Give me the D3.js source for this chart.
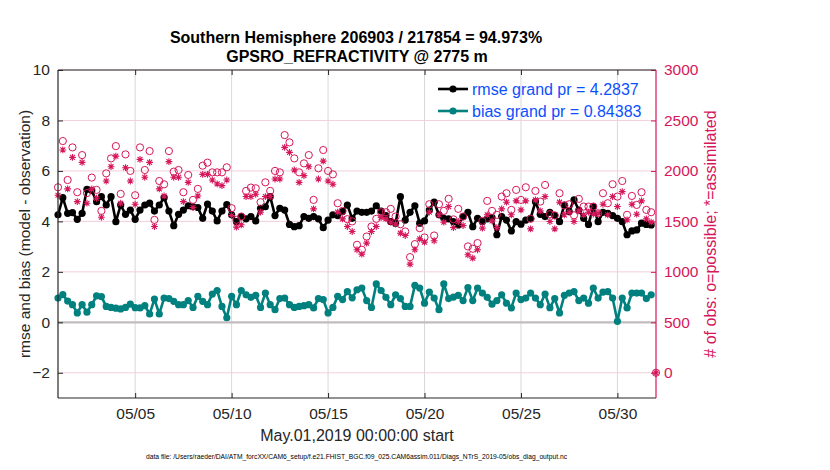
<!DOCTYPE html>
<html>
<head>
<meta charset="utf-8">
<script src="https://cdn.jsdelivr.net/npm/d3@7"></script>
<style>
  html, body { margin: 0; padding: 0; background: #fff; }
  svg { display: block; font-family: "Liberation Sans", Arial, Helvetica, sans-serif; }
</style>
</head>
<body>
<svg id="chart" width="830" height="470"></svg>
<script>
// ---------------- data ----------------
const startTime = "2019-05-01T00:00:00Z";
const binHours = 6;
const endTime = "2019-06-01T00:00:00Z";

const rmse = [4.26,4.94,4.32,4.35,4.08,4.32,5.27,5.22,4.78,4.98,4.65,4.98,3.99,4.65,4.28,4.45,4.08,4.45,4.65,4.72,
  4.41,4.65,4.94,4.41,3.83,4.28,4.45,4.62,4.58,4.55,4.12,4.69,4.41,4.02,4.41,4.67,4.26,3.99,4.19,4.10,
  4.19,4.02,4.52,4.58,4.98,4.23,4.52,4.45,3.88,3.79,3.83,4.19,4.12,4.19,4.10,3.75,4.05,4.26,4.23,4.39,
  4.65,4.12,4.41,4.36,4.36,4.41,4.62,4.41,4.23,3.99,3.93,4.98,4.05,4.36,4.62,3.93,4.02,4.45,4.76,4.26,
  4.12,4.10,3.99,3.86,4.19,4.36,3.79,4.12,3.99,4.10,4.15,3.47,4.19,4.05,3.62,3.99,3.89,4.05,4.12,4.78,
  4.28,4.19,4.36,4.23,3.99,4.65,4.39,4.85,4.45,4.12,3.88,4.58,3.99,4.36,4.32,4.23,4.12,3.99,3.47,3.62,
  3.66,3.93,3.88,3.86];

const bias = [0.96,1.10,0.84,0.70,0.37,0.70,0.40,0.70,1.05,1.02,0.63,0.59,0.56,0.53,0.59,0.72,0.58,0.57,0.66,0.33,
  0.92,0.33,0.96,0.94,0.83,0.70,0.70,0.86,0.59,1.03,0.83,0.70,1.12,1.26,0.63,0.18,1.03,0.70,1.26,1.09,
  0.99,1.07,0.59,1.16,0.70,0.50,0.94,0.96,0.70,0.59,0.63,0.66,0.70,0.57,0.94,0.90,0.37,0.59,1.03,0.90,
  1.22,0.97,1.29,1.36,0.86,0.59,1.52,1.26,0.99,0.70,1.09,0.94,0.63,0.63,1.46,1.36,0.76,1.20,0.96,0.50,
  1.52,0.94,1.00,1.07,0.86,1.38,0.86,1.36,1.16,0.99,0.72,0.86,1.09,0.76,0.57,1.16,0.90,0.96,1.16,0.96,
  0.70,1.12,0.58,0.94,0.37,1.07,1.16,1.22,0.86,0.96,0.76,1.36,0.96,1.20,1.22,0.96,0.04,0.96,0.57,1.16,
  1.16,1.16,0.94,1.09];

const nPossible = [1838,2296,1910,2233,1789,2157,1780,1934,1812,1604,1976,2124,2246,1772,2164,2000,1759,2233,2009,2197,
  1515,1900,1867,2197,1993,2009,1789,1960,1713,1822,2052,2082,1986,1986,1986,2036,1631,1515,1548,1802,
  1835,1828,1690,1887,1802,2000,1986,2355,2283,2124,1986,2075,2157,1713,2026,2207,2000,1966,1680,1604,
  1522,1500,1268,1219,1350,1449,1525,1591,1591,1624,1548,1472,1400,1146,1275,1433,1341,1670,1360,1670,
  1604,1723,1520,1624,1548,1252,1229,1285,1505,1703,1604,1565,1746,1779,1614,1812,1713,1838,1525,1802,
  1696,1861,1571,1560,1779,1657,1670,1560,1723,1647,1647,1647,1580,1779,1680,1868,1746,1900,1565,1752,
  1663,1789,1614,1591,0];

const nAssimilated = [1759,2208,1822,2134,1696,2085,1680,1822,1729,1541,1900,2042,2147,1680,2032,1900,1670,2114,1937,2085,
  1449,1822,1752,2092,1937,1937,1696,1887,1637,1752,1966,1966,1910,1871,1854,1910,1558,1443,1466,1746,
  1746,1769,1591,1746,1746,1920,1920,2233,2184,2009,1887,1953,2042,1624,1920,2097,1900,1868,1591,1525,
  1449,1400,1219,1176,1285,1400,1449,1538,1525,1492,1472,1383,1360,1077,1219,1327,1294,1591,1308,1565,
  1492,1647,1439,1499,1459,1169,1136,1219,1433,1565,1505,1439,1624,1690,1565,1703,1614,1703,1426,1713,
  1604,1746,1499,1426,1690,1565,1591,1499,1604,1565,1591,1571,1581,1670,1565,1746,1647,1795,1515,1670,
  1571,1703,1525,1492,0];

const leftTicks = [-2, 0, 2, 4, 6, 8, 10];
const rightTicks = [0, 500, 1000, 1500, 2000, 2500, 3000];
const xTickDates = ["2019-05-05","2019-05-10","2019-05-15","2019-05-20","2019-05-25","2019-05-30"];

const titleLine1 = "Southern Hemisphere 206903 / 217854 = 94.973%";
const titleLine2 = "GPSRO_REFRACTIVITY @ 2775 m";
const legendRmse = "rmse grand pr = 4.2837";
const legendBias = "bias grand pr = 0.84383";
const leftLabel = "rmse and bias (model - observation)";
const rightLabel = "# of obs: o=possible; *=assimilated";
const xLabel = "May.01,2019 00:00:00 start";
const footer = "data file: /Users/raeder/DAI/ATM_forcXX/CAM6_setup/f.e21.FHIST_BGC.f09_025.CAM6assim.011/Diags_NTrS_2019-05/obs_diag_output.nc";

// ---------------- layout ----------------
const M = { left: 58, right: 656, top: 70, bottom: 398 };
const PINK = "#d6175b";
const TEAL = "#00807e";
const AXC = "#262626";
const BLUE = "#0b50ff";

const t0 = new Date(startTime);
const times = d3.range(nPossible.length).map(i => d3.utcHour.offset(t0, i * binHours));

const x = d3.scaleUtc().domain([new Date(startTime), new Date(endTime)]).range([M.left, M.right]);
const yL = d3.scaleLinear().domain([-3, 10]).range([M.bottom, M.top]);
const yR = d3.scaleLinear().domain([-250, 3000]).range([M.bottom, M.top]);

const svg = d3.select("#chart");

// grid: vertical
const xt = xTickDates.map(s => new Date(s + "T00:00:00Z"));
svg.append("g").selectAll("line").data(xt).join("line")
  .attr("x1", d => x(d)).attr("x2", d => x(d))
  .attr("y1", M.top).attr("y2", M.bottom)
  .attr("stroke", "#d8d8d8").attr("stroke-width", 1);

// grid: horizontal (right axis)
svg.append("g").selectAll("line").data(rightTicks).join("line")
  .attr("x1", M.left).attr("x2", M.right)
  .attr("y1", d => yR(d)).attr("y2", d => yR(d))
  .attr("stroke", "#f3cfdc").attr("stroke-width", 1);

// zero line
svg.append("line")
  .attr("x1", M.left).attr("x2", M.right)
  .attr("y1", yL(0)).attr("y2", yL(0))
  .attr("stroke", "#c3bcc0").attr("stroke-width", 2.2);

// rmse line + markers
const lineL = d3.line().x((d, i) => x(times[i])).y(d => yL(d));
svg.append("path").datum(rmse).attr("d", lineL)
  .attr("fill", "none").attr("stroke", "#000").attr("stroke-width", 2.6).attr("stroke-linejoin", "round");
svg.append("g").selectAll("circle").data(rmse).join("circle")
  .attr("cx", (d, i) => x(times[i])).attr("cy", d => yL(d)).attr("r", 3.6).attr("fill", "#000");

// bias line + markers
svg.append("path").datum(bias).attr("d", lineL)
  .attr("fill", "none").attr("stroke", TEAL).attr("stroke-width", 2.6).attr("stroke-linejoin", "round");
svg.append("g").selectAll("circle").data(bias).join("circle")
  .attr("cx", (d, i) => x(times[i])).attr("cy", d => yL(d)).attr("r", 3.6).attr("fill", TEAL);

// possible (open circles)
svg.append("g").selectAll("circle").data(nPossible).join("circle")
  .attr("cx", (d, i) => x(times[i])).attr("cy", d => yR(d)).attr("r", 3.6)
  .attr("fill", "none").attr("stroke", PINK).attr("stroke-width", 1);

// assimilated (asterisks)
const a = 3.4, b = a * 0.72;
const star = `M0,${-a}V${a}M${-a},0H${a}M${-b},${-b}L${b},${b}M${-b},${b}L${b},${-b}`;
svg.append("g").selectAll("path").data(nAssimilated).join("path")
  .attr("transform", (d, i) => `translate(${x(times[i])},${yR(d)})`)
  .attr("d", star).attr("fill", "none").attr("stroke", PINK).attr("stroke-width", 1.1);

// axes
const leftAxis = d3.axisLeft(yL).tickValues(leftTicks).tickSize(-5).tickPadding(8).tickFormat(d3.format("d"));
const gL = svg.append("g").attr("transform", `translate(${M.left},0)`).call(leftAxis);
gL.select(".domain").remove();
gL.selectAll("line").attr("stroke", AXC);
gL.selectAll("text").attr("fill", AXC).attr("font-size", 15.5).attr("font-family", "Liberation Sans, Arial, sans-serif");

const rightAxis = d3.axisRight(yR).tickValues(rightTicks).tickSize(-5).tickPadding(8).tickFormat(d3.format("d"));
const gR = svg.append("g").attr("transform", `translate(${M.right},0)`).call(rightAxis);
gR.select(".domain").remove();
gR.selectAll("line").attr("stroke", PINK);
gR.selectAll("text").attr("fill", PINK).attr("font-size", 15.5).attr("font-family", "Liberation Sans, Arial, sans-serif");

const bottomAxis = d3.axisBottom(x).tickValues(xt).tickSize(-5).tickPadding(10).tickFormat(d3.utcFormat("%m/%d"));
const gB = svg.append("g").attr("transform", `translate(0,${M.bottom})`).call(bottomAxis);
gB.select(".domain").remove();
gB.selectAll("line").attr("stroke", AXC);
gB.selectAll("text").attr("fill", AXC).attr("font-size", 15.5).attr("font-family", "Liberation Sans, Arial, sans-serif");

const topAxis = d3.axisTop(x).tickValues(xt).tickSize(-5).tickFormat("");
const gT = svg.append("g").attr("transform", `translate(0,${M.top})`).call(topAxis);
gT.select(".domain").remove();
gT.selectAll("line").attr("stroke", AXC);

// frame
svg.append("line").attr("x1", M.left).attr("x2", M.left).attr("y1", M.top).attr("y2", M.bottom).attr("stroke", AXC).attr("stroke-width", 1.2);
svg.append("line").attr("x1", M.left).attr("x2", M.right).attr("y1", M.bottom).attr("y2", M.bottom).attr("stroke", AXC).attr("stroke-width", 1.2);
svg.append("line").attr("x1", M.left).attr("x2", M.right).attr("y1", M.top).attr("y2", M.top).attr("stroke", AXC).attr("stroke-width", 1.2);
svg.append("line").attr("x1", M.right).attr("x2", M.right).attr("y1", M.top).attr("y2", M.bottom).attr("stroke", PINK).attr("stroke-width", 1.2);

// titles
svg.append("text").attr("x", 356).attr("y", 43).attr("text-anchor", "middle")
  .attr("font-size", 16).attr("font-weight", "bold").attr("fill", "#000").text(titleLine1);
svg.append("text").attr("x", 357).attr("y", 62).attr("text-anchor", "middle")
  .attr("font-size", 16).attr("font-weight", "bold").attr("fill", "#000").text(titleLine2);

// axis labels
svg.append("text").attr("transform", `translate(30,${(M.top + M.bottom) / 2}) rotate(-90)`)
  .attr("text-anchor", "middle").attr("font-size", 15.5).attr("fill", AXC).text(leftLabel);
svg.append("text").attr("transform", `translate(716,${(M.top + M.bottom) / 2}) rotate(-90)`)
  .attr("text-anchor", "middle").attr("font-size", 16).attr("fill", PINK).text(rightLabel);
svg.append("text").attr("x", 357).attr("y", 441).attr("text-anchor", "middle")
  .attr("font-size", 16).attr("fill", AXC).text(xLabel);
svg.append("text").attr("x", 356.5).attr("y", 459).attr("text-anchor", "middle")
  .attr("font-size", 8).attr("fill", "#000").attr("textLength", 421).attr("lengthAdjust", "spacingAndGlyphs").text(footer);

// legend
const legend = [
  { label: legendRmse, color: "#000", y: 89 },
  { label: legendBias, color: TEAL, y: 111 }
];
const lg = svg.append("g");
lg.selectAll("line").data(legend).join("line")
  .attr("x1", 438).attr("x2", 468).attr("y1", d => d.y).attr("y2", d => d.y)
  .attr("stroke", d => d.color).attr("stroke-width", 2.6);
lg.selectAll("circle").data(legend).join("circle")
  .attr("cx", 453).attr("cy", d => d.y).attr("r", 3.6).attr("fill", d => d.color);
lg.selectAll("text").data(legend).join("text")
  .attr("x", 472).attr("y", d => d.y + 6).attr("font-size", 16).attr("fill", BLUE).text(d => d.label);
</script>
</body>
</html>
